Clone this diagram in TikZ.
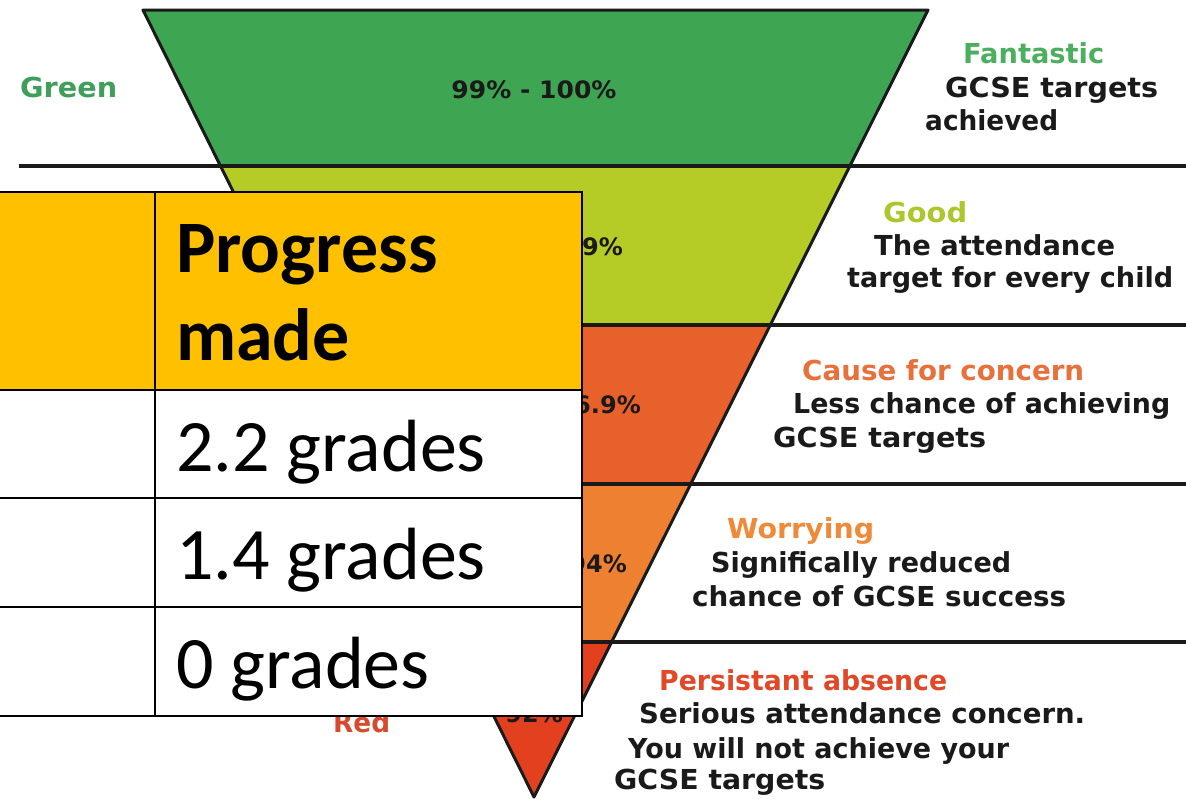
\documentclass[tikz,border=0pt]{standalone}
\usepackage{fontspec}
\usepackage{graphicx}
\setmainfont{DejaVu Sans}
\newfontfamily\calib{Carlito}
\newcommand\fw[2]{\resizebox{#1pt}{\height}{#2}}
\definecolor{cGreen}{HTML}{3EA652}
\definecolor{cYG}{HTML}{B5CC26}
\definecolor{cRO}{HTML}{E8602A}
\definecolor{cOr}{HTML}{EE8032}
\definecolor{cRed}{HTML}{E2401E}
\definecolor{cHead}{HTML}{FFC000}
\definecolor{tGreen}{HTML}{3F9E5A}
\definecolor{tFan}{HTML}{4CAF5F}
\definecolor{tGood}{HTML}{AEC62C}
\definecolor{tCause}{HTML}{E8703A}
\definecolor{tWorry}{HTML}{EE8A3A}
\definecolor{tPers}{HTML}{E04828}
\definecolor{tRed}{HTML}{D84A2E}
\definecolor{ink}{HTML}{1A1A1A}
\begin{document}
\begin{tikzpicture}[x=1pt,y=-1pt,
  sep/.style={draw=ink,line width=3.5pt},
  edge/.style={draw=ink,line width=3pt,line join=round},
  desc/.style={inner sep=0pt,anchor=base west,font=\bfseries\fontsize{27.5}{32}\selectfont,text=ink},
  pct/.style={inner sep=0pt,font=\bfseries\fontsize{24}{29}\selectfont,text=ink},
  grid/.style={draw=black,line width=2pt},
  cell/.style={inner sep=0pt,anchor=base west,font=\calib\fontsize{74}{88}\selectfont}]
\useasboundingbox (0,0) rectangle (1186,798);
\fill[white] (0,0) rectangle (1186,798);
% funnel
\coordinate (TL) at (143,10);
\coordinate (TR) at (928,10);
\coordinate (AP) at (534,797);
\begin{scope}
  \clip (TL) -- (TR) -- (AP) -- cycle;
  \fill[cGreen] (0,0) rectangle (1186,166);
  \fill[cYG] (0,166) rectangle (1186,325);
  \fill[cRO] (0,325) rectangle (1186,484);
  \fill[cOr] (0,484) rectangle (1186,642);
  \fill[cRed] (0,642) rectangle (1186,798);
\end{scope}
\coordinate (L1) at (19,166);  \coordinate (R1) at (1186,166);
\coordinate (L2) at (19,325);  \coordinate (R2) at (1186,325);
\coordinate (L3) at (19,484);  \coordinate (R3) at (1186,484);
\coordinate (L4) at (19,642);  \coordinate (R4) at (1186,642);
\draw[sep] (L1) -- (R1);
\draw[sep] (L2) -- (R2);
\draw[sep] (L3) -- (R3);
\draw[sep] (L4) -- (R4);
\draw[edge] (TL) -- (TR) -- (AP) -- cycle;
% left labels
\node[desc,text=tGreen] (green) at (20,97) {\fw{97}{Green}};
\node[desc,text=tRed] (red) at (333,732) {\fw{57}{Red}};
% percentages
\node[pct,anchor=base] (p1) at (534,98) {\fw{165}{99\% - 100\%}};
\node[pct,anchor=base east] (p2) at (623,255) {9\%};
\node[pct,anchor=base east] (p3) at (641,413) {6.9\%};
\node[pct,anchor=base east] (p4) at (627,572) {94\%};
\node[pct,anchor=base east] (p5) at (563,722) {92\%};
% descriptions
\node[desc,text=tFan] (d1a) at (963,63) {\fw{141}{Fantastic}};
\node[desc] (d1b) at (945,97) {\fw{213}{GCSE targets}};
\node[desc] (d1c) at (925,130) {\fw{133}{achieved}};
\node[desc,text=tGood] (d2a) at (883,222) {\fw{84}{Good}};
\node[desc] (d2b) at (874,255) {\fw{241}{The attendance}};
\node[desc] (d2c) at (847,287) {\fw{326}{target for every child}};
\node[desc,text=tCause] (d3a) at (802,380) {\fw{282}{Cause for concern}};
\node[desc] (d3b) at (793,413) {\fw{377}{Less chance of achieving}};
\node[desc] (d3c) at (773,447) {\fw{213}{GCSE targets}};
\node[desc,text=tWorry] (d4a) at (727,538) {\fw{147}{Worrying}};
\node[desc] (d4b) at (711,572) {\fw{300}{Significally reduced}};
\node[desc] (d4c) at (692,606) {\fw{374}{chance of GCSE success}};
\node[desc,text=tPers] (d5a) at (659,690) {\fw{288}{Persistant absence}};
\node[desc] (d5b) at (639,723) {\fw{446}{Serious attendance concern.}};
\node[desc] (d5c) at (628,758) {\fw{381}{You will not achieve your}};
\node[desc] (d5d) at (614,789) {\fw{211}{GCSE targets}};
% table
\fill[cHead] (-5,192) rectangle (582,390);
\fill[white] (-5,390) rectangle (582,716);
\draw[grid] (-5,192) -- (582,192) -- (582,716) -- (-5,716);
\draw[grid] (-5,390) -- (582,390);
\draw[grid] (-5,498) -- (582,498);
\draw[grid] (-5,607) -- (582,607);
\draw[grid] (155,192) -- (155,716);
\node[cell,font=\calib\bfseries\fontsize{74}{88}\selectfont] (h1) at (176,272) {Progress};
\node[cell,font=\calib\bfseries\fontsize{74}{88}\selectfont] (h2) at (176,360) {made};
\node[cell] (r1) at (176,471) {2.2 grades};
\node[cell] (r2) at (176,579) {1.4 grades};
\node[cell] (r3) at (176,688) {0 grades};
\end{tikzpicture}
\end{document}
